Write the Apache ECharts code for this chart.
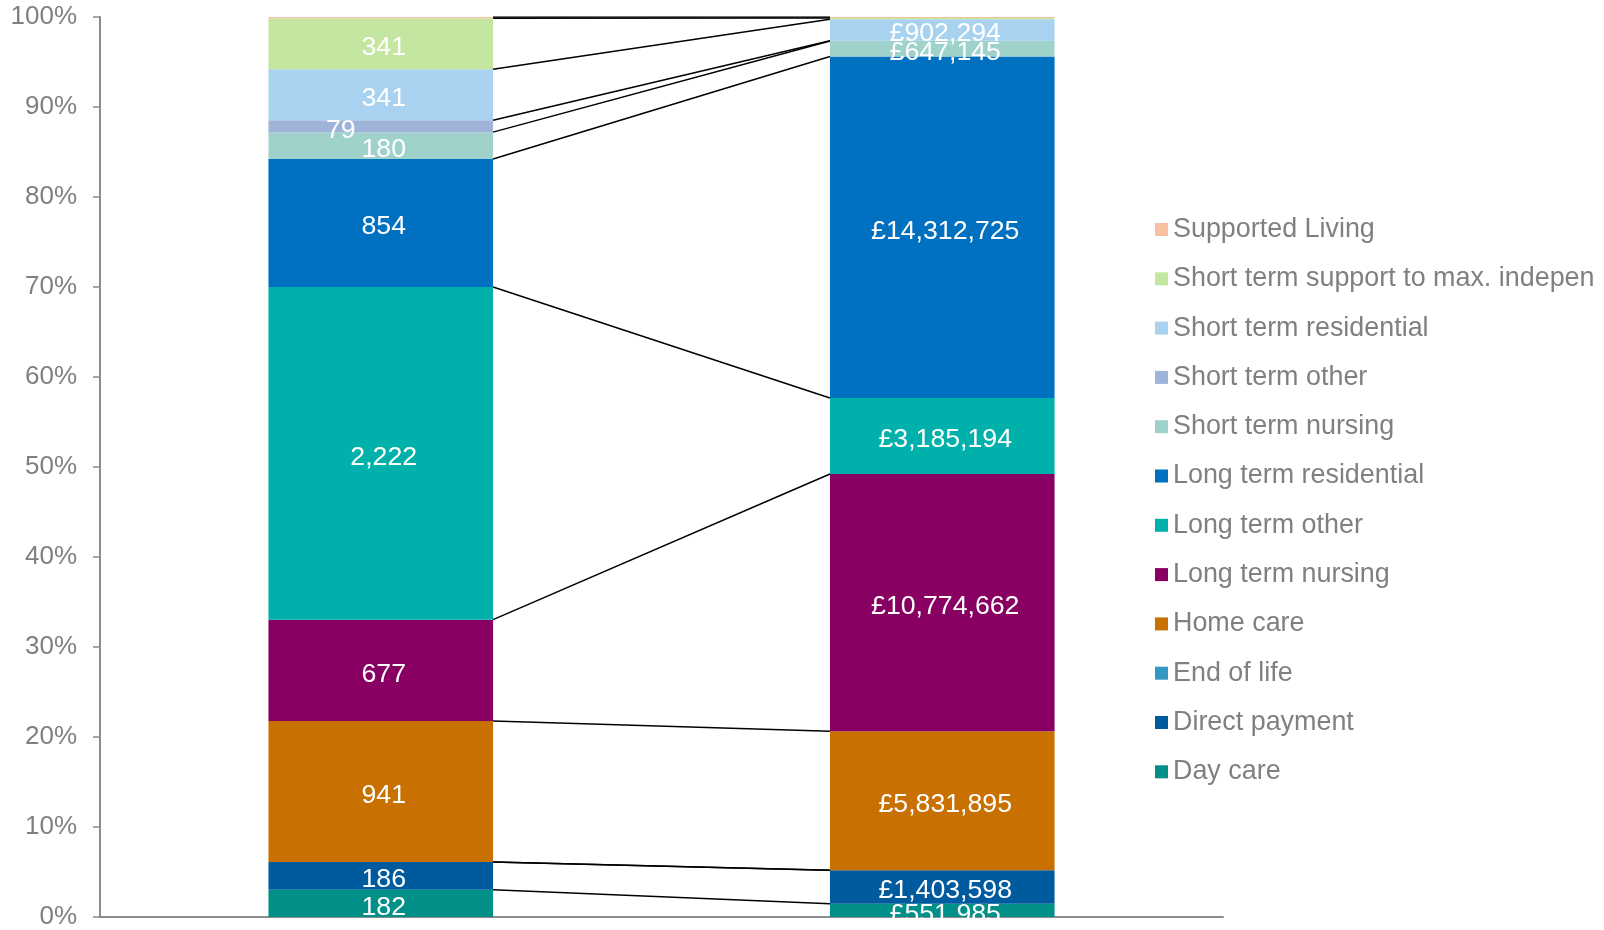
<!DOCTYPE html>
<html>
<head>
<meta charset="utf-8">
<script src="https://cdn.jsdelivr.net/npm/echarts@6/dist/echarts.min.js"></script>
<style>
  html, body { margin: 0; padding: 0; background: #fff; }
  #chart { width: 1604px; height: 930px; }
</style>
</head>
<body>
<div id="chart"></div>
<script>
// two stacked columns (counts / spend), bottom to top
var categories = ['Count', 'Spend'];
var seriesNames = ['Day care', 'Direct payment', 'End of life', 'Home care', 'Long term nursing',
	'Long term other', 'Long term residential', 'Short term nursing', 'Short term other',
	'Short term residential', 'Short term support to max. indepen', 'Supported Living'];
var countValues = [182, 186, 0, 941, 677, 2222, 854, 180, 79, 341, 341, 8];
var spendValues = [551985, 1403598, 0, 5831895, 10774662, 3185194, 14312725, 647145, 10000, 902294, 50000, 45000];
var yTicks = [0, 10, 20, 30, 40, 50, 60, 70, 80, 90, 100];

var colors = ['#009088', '#005a9e', '#3399c4', '#c87000', '#870062', '#00b0aa',
	'#0070c0', '#a0d2cc', '#a0b4da', '#a8d2f0', '#c4e6a0', '#f8bfa0'];

function sum(a) { var s = 0; for (var i = 0; i < a.length; i++) s += a[i]; return s; }
function fmt(n) { return String(Math.round(n)).replace(/\B(?=(\d{3})+(?!\d))/g, ','); }

var countTotal = sum(countValues);
var spendTotal = sum(spendValues);

var font = 'Liberation Sans, Arial, sans-serif';
var series = [];
var cumL = 0, cumR = 0;
for (var i = 0; i < seriesNames.length; i++) {
	var pl = countValues[i] / countTotal * 100;
	var pr = spendValues[i] / spendTotal * 100;
	var leftItem = { value: pl, raw: countValues[i] };
	if (seriesNames[i] == 'Short term other') leftItem.label = { offset: [-40, 4] };
	series.push({
		name: seriesNames[i],
		type: 'bar',
		stack: 'all',
		barCategoryGap: '60%',
		itemStyle: { color: colors[i] },
		data: [leftItem, { value: pr, raw: spendValues[i] }],
		label: {
			show: true,
			color: '#fff',
			fontSize: 26.7,
			fontFamily: font,
			offset: [3, 4],
			formatter: function (p) {
				if (p.value < 1) return '';
				return (p.dataIndex == 1 ? '£' : '') + fmt(p.data.raw);
			}
		}
	});
	cumL += pl; cumR += pr;
	// series line joining the tops of the segments
	series.push({
		type: 'line',
		xAxisIndex: 1,
		silent: true,
		symbol: 'none',
		lineStyle: { color: '#000', width: 1.5 },
		data: [[0.7, Math.min(cumL, 100)], [1.3, Math.min(cumR, 100)]],
		z: 3
	});
}

var chart = echarts.init(document.getElementById('chart'));
chart.setOption({
	animation: false,
	grid: { left: 100, right: 381, top: 17, bottom: 12 },
	legend: {
		orient: 'vertical',
		left: 1150,
		top: 211,
		itemWidth: 13,
		itemHeight: 13,
		itemGap: 22.3,
		icon: 'rect',
		data: seriesNames.slice().reverse(),
		textStyle: { color: '#808080', fontSize: 26.9, lineHeight: 27, fontFamily: font }
	},
	xAxis: [{
		type: 'category',
		data: categories,
		axisLine: { lineStyle: { color: '#8c8c8c', width: 2 } },
		axisTick: { length: 7, lineStyle: { color: '#8c8c8c', width: 1.5 } },
		axisLabel: { show: false }
	}, {
		type: 'value',
		min: 0,
		max: 2,
		show: false
	}],
	yAxis: {
		type: 'value',
		min: yTicks[0],
		max: yTicks[yTicks.length - 1],
		interval: yTicks[1] - yTicks[0],
		splitLine: { show: false },
		axisLine: { show: true, lineStyle: { color: '#8c8c8c', width: 2 } },
		axisTick: { show: true, length: 7, lineStyle: { color: '#8c8c8c', width: 1.5 } },
		axisLabel: {
			color: '#808080',
			fontSize: 26,
			fontFamily: font,
			margin: 23,
			padding: [8, 0, 0, 0],
			formatter: '{value}%'
		}
	},
	series: series
});
</script>
</body>
</html>
